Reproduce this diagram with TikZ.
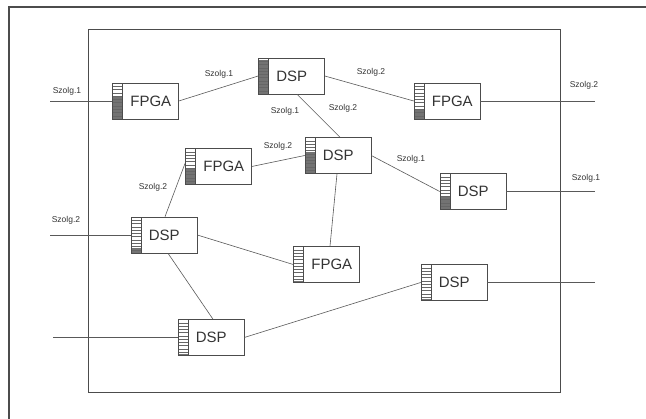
\documentclass[tikz,border=0pt]{standalone}
\usepackage{fontspec}
\setmainfont{Liberation Sans}
\begin{document}
\begin{tikzpicture}[x=1pt,y=-1pt,
  unit/.style={draw=black!70, line width=0.6pt, minimum width=66pt, minimum height=36pt, inner sep=0pt,
    path picture={
      \fill[black!55] (path picture bounding box.south west) rectangle ([xshift=10pt,yshift=\darkf*36pt]path picture bounding box.south west);
      \foreach \i in {1,...,10}{\draw[black!60,line width=0.4pt] ([yshift=\i*3.27pt]path picture bounding box.south west) -- ++(10pt,0pt);}
      \draw[black!70,line width=0.5pt] ([xshift=10pt]path picture bounding box.south west) -- ([xshift=10pt]path picture bounding box.north west);
    }},
  darkfrac/.code={\def\darkf{#1}},
  utext/.style={anchor=west, inner sep=0pt, text=black!80, font=\fontsize{15}{15}\selectfont},
  lab/.style={inner sep=0pt, text=black!80, font=\fontsize{8.5}{8.5}\selectfont},
  conn/.style={draw=black!65, line width=0.6pt}
]
\useasboundingbox (0,0) rectangle (646,419);
% frames
\coordinate (ofA) at (8,7);
\coordinate (ofB) at (646,7);
\coordinate (ofC) at (9,419);
\draw[black!70,line width=1.2pt] (ofC) -- (ofA -| ofC) -- (ofB);
\node[draw=black!70,line width=0.7pt,minimum width=472pt,minimum height=363pt,inner sep=0pt] (frame) at (324,210.5) {};

\newcommand\munit[5]{%
  \node[unit,darkfrac=#5] (#1) at (#2) {};
  \node[utext] (#1t) at ([xshift=18pt]#1.west) {#4};
}
\munit{fa}{145.5,101}{}{FPGA}{0.65}
\munit{da}{291.5,76}{}{DSP}{0.95}
\munit{fb}{447,101}{}{FPGA}{0.25}
\munit{fc}{218.5,166.5}{}{FPGA}{0.45}
\munit{db}{338,155.5}{}{DSP}{0.6}
\munit{dc}{473,191.5}{}{DSP}{0.35}
\munit{dd}{164,235}{}{DSP}{0.15}
\munit{fd}{326.5,264.5}{}{FPGA}{0.05}
\munit{de}{454,282.5}{}{DSP}{0.05}
\munit{df}{211,337.5}{}{DSP}{0.05}

% free ends
\coordinate (in1) at (50,101);
\coordinate (in2) at (50,235);
\coordinate (in3) at (53,337.5);
\coordinate (out1) at (595,101);
\coordinate (out2) at (595,191.5);
\coordinate (out3) at (595,282.5);

\path[conn] (in1) -- (fa.west);
\path[conn] (in2) -- (dd.west);
\path[conn] (in3) -- (df.west);
\path[conn] (fb.east) -- (out1);
\path[conn] (dc.east) -- (out2);
\path[conn] (de.east) -- (out3);

\path[conn] (fa.east) -- (da.west);
\path[conn] (da.east) -- (fb.west);
\path[conn] ([xshift=5.5pt]da.south) -- ([xshift=2pt]db.north);
\path[conn] (fc.east) -- (db.west);
\path[conn] (db.east) -- (dc.west);
\path[conn] ([yshift=3.5pt]fc.west) -- ([xshift=1pt]dd.north);
\path[conn] (dd.east) -- (fd.west);
\path[conn] ([xshift=4pt]dd.south) -- ([xshift=2pt]df.north);
\path[conn] ([xshift=-1pt]db.south) -- ([xshift=3.5pt]fd.north);
\path[conn] (df.east) -- (de.west);

% labels
\node[lab] (l1) at (67,91) {Szolg.1};
\node[lab] (l2) at (219,74) {Szolg.1};
\node[lab] (l3) at (371,72) {Szolg.2};
\node[lab] (l4) at (584,85) {Szolg.2};
\node[lab] (l5) at (285,111) {Szolg.1};
\node[lab] (l6) at (343,108) {Szolg.2};
\node[lab] (l7) at (278,146) {Szolg.2};
\node[lab] (l8) at (411,159) {Szolg.1};
\node[lab] (l9) at (586,178) {Szolg.1};
\node[lab] (l10) at (153,187) {Szolg.2};
\node[lab] (l11) at (66,220) {Szolg.2};
\end{tikzpicture}
\end{document}
